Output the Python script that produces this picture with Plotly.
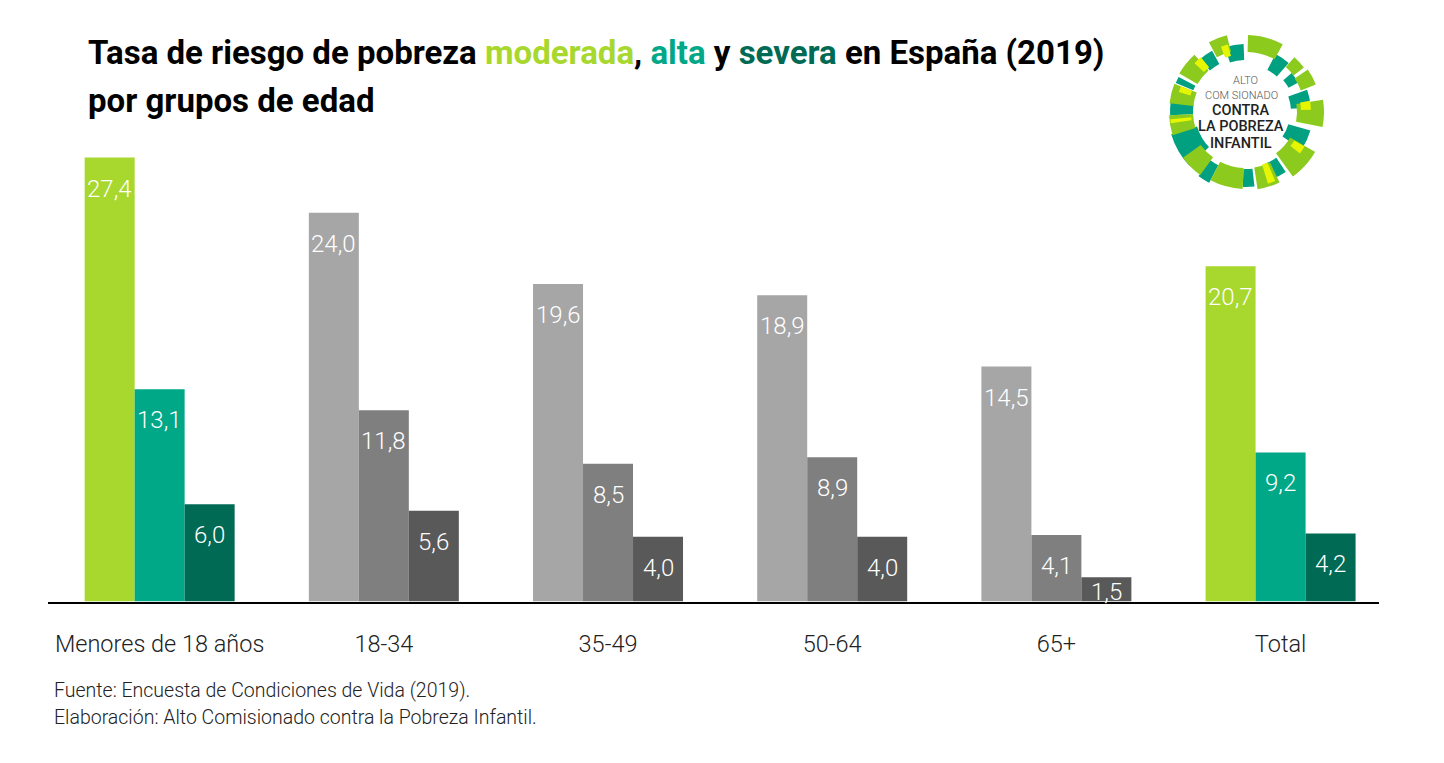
import plotly.graph_objects as go

# chart data
grupos = ["Menores de 18 años", "18-34", "35-49", "50-64", "65+", "Total"]
moderada = [27.4, 24.0, 19.6, 18.9, 14.5, 20.7]
alta = [13.1, 11.8, 8.5, 8.9, 4.1, 9.2]
severa = [6.0, 5.6, 4.0, 4.0, 1.5, 4.2]

# colours: the first and last group are highlighted, the rest stay grey
col_moderada = ["#A8D72E", "#A6A6A6", "#A6A6A6", "#A6A6A6", "#A6A6A6", "#A8D72E"]
col_alta = ["#00A887", "#7F7F7F", "#7F7F7F", "#7F7F7F", "#7F7F7F", "#00A887"]
col_severa = ["#006A54", "#595959", "#595959", "#595959", "#595959", "#006A54"]

# logo ring, angle / width in degrees, radius in px
teal_theta = [34, 55, 78, 115, 153, 178, 212, 240, 273, 295, 325, 350]
teal_width = [14, 11, 16, 18, 13, 9, 9, 27, 11, 5, 12, 16]
teal_base = [47, 49, 45, 44, 55, 57, 60, 51, 53, 57, 55, 52]
teal_top = [65, 60, 65, 67, 72, 75, 80, 78, 76, 76, 70, 68]
green_theta = [15, 47, 62, 91, 132, 163, 195, 225, 260, 284, 309, 339]
green_width = [27, 11, 13, 20, 24, 17, 25, 18, 15, 15, 18, 14]
green_base = [60, 60, 59, 51, 51, 56, 56, 56, 53, 53, 56, 62]
green_top = [77, 73, 75, 78, 80, 78, 77, 78, 77, 77, 77, 79]
yellow_theta = [84, 124, 160, 263, 289, 317, 342]
yellow_width = [8, 7, 6, 3, 5, 7, 6]
yellow_base = [55, 56, 55, 55, 58, 58, 58]
yellow_top = [65, 68, 75, 76, 70, 71, 70]

# the page body keeps an 8px margin, so the figure is that much smaller
PAGE = 8
W, H = 1444 - PAGE, 763 - PAGE
BAR = 50 / 224.2


def fx(px):
    return (px - PAGE) / W


def fy(px):
    return 1 - (px - PAGE) / H


fig = go.Figure()
for vals, cols in [(moderada, col_moderada), (alta, col_alta), (severa, col_severa)]:
    fig.add_trace(go.Bar(x=grupos, y=vals, marker_color=cols, marker_line_width=0, hoverinfo="skip"))

for col, base, top, th, wd in [
    ("#00A080", teal_base, teal_top, teal_theta, teal_width),
    ("#8CCB1E", green_base, green_top, green_theta, green_width),
    ("#E6F500", yellow_base, yellow_top, yellow_theta, yellow_width),
]:
    fig.add_trace(go.Barpolar(theta=th, width=wd, base=base, r=[t - b for t, b in zip(top, base)],
                              marker_color=col, marker_line_width=0, hoverinfo="skip"))

# value labels sit a fixed distance under the top of each bar
for j, vals in enumerate([moderada, alta, severa]):
    for i, v in enumerate(vals):
        fig.add_annotation(x=i + (j - 1) * BAR, y=v, xref="x", yref="y",
                           text=f"{v:.1f}".replace(".", ","), showarrow=False,
                           yshift=-31 if v > 2 else -15,
                           font=dict(family="Roboto", size=24, color="white", weight=300))


def paper_text(txt, x, y, size, color="#111", anchor="left", weight=None):
    fig.add_annotation(text=txt, x=fx(x), y=fy(y), xref="paper", yref="paper", showarrow=False,
                       xanchor=anchor, yanchor="middle", align=anchor,
                       font=dict(family="Roboto", size=size, color=color, weight=weight))


paper_text('Tasa de riesgo de pobreza <span style="color:#A8D72E">moderada</span>, '
           '<span style="color:#00A887">alta</span> y <span style="color:#006A54">severa</span> '
           'en España (2019)', 86, 53, 33, "#000", weight=700)
paper_text("por grupos de edad", 86, 101, 33, "#000", weight=700)
paper_text("Fuente: Encuesta de Condiciones de Vida (2019).", 52, 690, 19.5, "#222", weight=300)
paper_text("Elaboración: Alto Comisionado contra la Pobreza Infantil.", 52, 717, 19.5, "#222", weight=300)

paper_text("ALTO", 1245, 81, 11, "#555", "center", weight=300)
paper_text("COM SIONADO", 1241, 95, 11, "#555", "center", weight=300)
paper_text("CONTRA", 1241, 111, 14.5, "#222", "center", weight=500)
paper_text("LA POBREZA", 1241, 127, 14.5, "#222", "center", weight=500)
paper_text("INFANTIL", 1241, 143, 14.5, "#222", "center", weight=500)

fig.update_layout(
    width=W, height=H, margin=dict(l=0, r=0, t=0, b=0),
    paper_bgcolor="white", plot_bgcolor="white", showlegend=False,
    barmode="group", bargap=1 - 3 * BAR, bargroupgap=0,
    polar=dict(domain=dict(x=[fx(1166), fx(1326)], y=[fy(192), fy(32)]),
               radialaxis=dict(visible=False, range=[0, 80]),
               angularaxis=dict(visible=False, direction="clockwise", rotation=90),
               bgcolor="rgba(0,0,0,0)"),
)
fig.update_xaxes(domain=[fx(48), fx(1379)], range=[-0.498, 5.439], showline=True, linecolor="#000", linewidth=2,
                 ticks="outside", ticklen=20, tickcolor="rgba(0,0,0,0)",
                 tickfont=dict(family="Roboto", size=23.5, color="#222", weight=300))
fig.update_yaxes(domain=[fy(601.5), fy(149.5)], range=[0, 452 / 16.2], visible=False)

fig.write_html("out.html")
